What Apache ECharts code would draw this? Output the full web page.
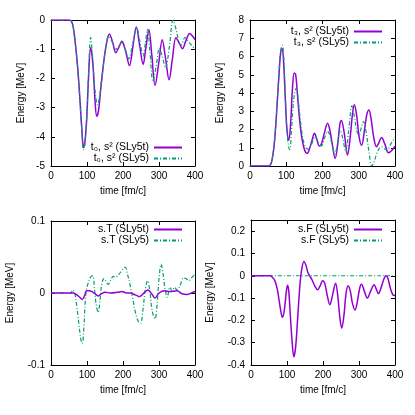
<!DOCTYPE html>
<html><head><meta charset="utf-8">
<script src="https://cdn.jsdelivr.net/npm/echarts@6/dist/echarts.min.js"></script>
<style>html,body{margin:0;padding:0;background:#fff}#c{width:415px;height:415px}</style>
</head><body><div id="c"></div>
<script>
// ---------- DATA ----------
const xTicks = [0, 100, 200, 300, 400];
const names = {
  t0a: 't\u2080, s\u00b2 (SLy5t)', t0b: 't\u2080, s\u00b2 (SLy5)',
  t3a: 't\u2083, s\u00b2 (SLy5t)', t3b: 't\u2083, s\u00b2 (SLy5)',
  sTa: 's.T (SLy5t)', sTb: 's.T (SLy5)',
  sFa: 's.F (SLy5t)', sFb: 's.F (SLy5)'
};
// panel 1 : t0, s^2
const t0_SLy5t_t = [0,50,55,60,64,68,73,77,81,86,90,94,99,104,110,114,118,122,127,132,138,144,150,156,162,171,180,188,197,207,218,227,237,246,256,263,272,280,289,299,309,318,328,337,347,356,365,375,385,393,400];
const t0_SLy5t_v = [0,0,-0.02,-0.15,-0.43,-0.85,-1.47,-2.1,-2.84,-3.8,-4.37,-4.2,-3.42,-2.04,-0.95,-1.2,-1.81,-2.7,-3.3,-3.1,-2.38,-1.7,-1.12,-0.7,-0.48,-0.75,-1.12,-0.95,-0.73,-1.05,-1.56,-0.95,-0.24,-0.85,-1.52,-1.0,-0.33,-1.2,-2.24,-1.5,-0.68,-1.3,-2.05,-1.35,-0.61,-0.78,-0.98,-0.7,-0.46,-0.55,-0.67];
const t0_SLy5_t = [0,50,55,60,64,68,73,77,81,86,90,94,99,104,110,114,119,124,129,134,140,147,153,160,170,180,188,196,206,216,227,238,247,256,262,268,275,283,292,301,309,318,329,339,348,356,362,372,386,400];
const t0_SLy5_v = [0,0,-0.02,-0.15,-0.43,-0.85,-1.5,-2.15,-2.9,-3.85,-4.45,-4.25,-3.4,-1.9,-0.6,-1.0,-1.9,-2.6,-2.9,-2.7,-2.1,-1.4,-0.85,-0.55,-0.75,-1.0,-0.9,-0.77,-1.0,-1.33,-0.8,-0.27,-0.75,-1.24,-0.8,-0.32,-1.1,-2.1,-1.6,-0.97,-1.25,-1.64,-0.9,0.0,-0.35,-0.8,-0.85,-0.6,-0.8,-1.0];
// panel 2 : t3, s^2
const t3_SLy5t_t = [0,50,55,60,66,71,75,80,84,88,92,98,102,107,112,117,122,126,131,137,144,152,158,165,171,178,184,191,197,205,214,220,227,235,242,248,252,260,269,277,283,288,294,301,308,316,322,328,334,341,349,356,363,372,382,391,400];
const t3_SLy5t_v = [0,0,0.03,0.25,1.05,2.2,3.44,5.0,6.1,6.45,5.9,3.44,2.0,1.4,2.3,4.2,5.1,5.0,3.9,2.5,1.42,0.8,0.7,1.0,1.4,1.79,1.5,1.1,1.2,1.8,2.34,2.0,1.2,0.41,1.2,2.3,2.5,1.8,0.6,1.7,2.9,3.35,2.8,1.6,1.14,2.0,2.8,3.07,2.6,1.6,1.05,1.3,1.56,1.2,0.72,0.85,1.08];
const t3_SLy5_t = [0,50,55,60,66,71,75,80,84,89,93,98,102,107,110,114,119,124,128,133,139,146,154,161,168,174,180,188,197,205,214,220,226,234,241,249,256,264,272,281,287,295,301,307,313,320,328,336,342,350,358,364,371,378,388,400];
const t3_SLy5_v = [0,0,0.03,0.25,1.05,2.2,3.5,5.1,6.25,6.62,6.0,3.6,1.9,1.0,0.9,1.8,3.3,4.1,4.27,3.6,2.5,1.5,1.0,0.92,1.1,1.4,1.6,1.3,1.1,1.5,1.9,1.7,1.2,0.64,1.2,1.97,1.5,0.77,1.9,3.3,2.8,1.9,1.7,2.1,2.43,1.9,0.8,0.0,0.2,0.7,1.0,1.05,0.95,0.86,1.2,1.56];
// panel 3 : s.T
const sT_SLy5t_t = [0,55,62,70,80,87,93,99,106,114,122,131,140,150,165,185,197,210,222,231,240,246,252,262,269,278,289,300,316,330,350,364,378,390,400];
const sT_SLy5t_v = [0,0,0,-0.002,-0.006,-0.009,-0.004,0.003,0.003,0.002,-0.001,-0.004,-0.001,0.001,0.0,0.001,0.002,0.0,0.0,-0.002,-0.004,-0.005,-0.003,0.002,0.004,0.0,-0.007,0.0,0.003,0.002,0.003,-0.001,-0.002,0.0,0.002];
const sT_SLy5_t = [0,55,60,66,72,78,83,87,91,97,104,110,116,121,126,131,136,141,147,153,159,166,173,180,187,195,206,213,219,226,236,243,249,255,262,268,274,281,289,294,300,306,311,317,323,330,337,343,350,358,368,375,383,392,400];
const sT_SLy5_v = [0,0,0.004,0.0,-0.02,-0.045,-0.065,-0.07,-0.05,0.0,0.015,0.022,0.024,0.005,-0.018,-0.027,-0.01,0.012,0.02,0.016,0.012,0.018,0.023,0.022,0.025,0.03,0.036,0.025,0.013,-0.005,-0.03,-0.04,-0.042,-0.025,0.005,0.017,0.005,-0.025,-0.036,-0.02,0.02,0.04,0.028,0.005,-0.006,0.008,0.003,0.008,0.004,0.01,0.021,0.02,0.017,0.022,0.026];
// panel 4 : s.F
const sF_SLy5t_t = [0,53,60,67,73,78,83,87,91,95,99,102,105,109,114,119,124,130,136,141,147,153,158,163,170,177,185,192,199,205,212,219,226,235,241,247,252,258,264,270,276,282,289,296,302,307,315,323,332,342,348,354,360,368,375,380,387,394,400];
const sF_SLy5t_v = [0,0,-0.008,-0.025,-0.06,-0.11,-0.16,-0.186,-0.17,-0.12,-0.06,-0.043,-0.07,-0.17,-0.29,-0.363,-0.32,-0.18,-0.04,0.03,0.064,0.045,0.015,0.0,-0.02,-0.045,-0.063,-0.045,-0.022,-0.035,-0.09,-0.13,-0.09,-0.033,-0.09,-0.19,-0.235,-0.18,-0.08,-0.045,-0.07,-0.125,-0.153,-0.11,-0.055,-0.038,-0.07,-0.1,-0.07,-0.04,-0.06,-0.08,-0.06,-0.02,0.0,-0.01,-0.055,-0.085,-0.088];
const sF_SLy5_t = [0,400];
const sF_SLy5_v = [0,0];
// y axis ranges
const yMin = [-5, 0, -0.1, -0.4];
const yMax = [0, 8, 0.1, 0.25];
const yInt = [1, 1, 0.1, 0.1];

// ---------- CHART ----------
const zip = (t, v) => t.map((x, i) => [x, v[i]]);
const FONT = 'Liberation Sans, Arial, sans-serif';
const PURPLE = '#9400d3', GREEN = '#009e73';
const grids = [
  {left: 51, top: 20, width: 144, height: 146},
  {left: 250, top: 20, width: 145, height: 146},
  {left: 51, top: 221, width: 144, height: 144},
  {left: 251, top: 220, width: 144, height: 145}
];
const yNameGap = [25, 25, 36, 36];
const xAxis = [], yAxis = [];
grids.forEach((g, i) => {
  const common = {
    type: 'value', gridIndex: i,
    axisLine: {show: true, onZero: false, lineStyle: {color: '#000', width: 1}},
    axisTick: {show: true, inside: true, length: 4, lineStyle: {color: '#000'}},
    splitLine: {show: false}
  };
  xAxis.push(Object.assign({}, common, {
    position: 'bottom', min: xTicks[0], max: xTicks[xTicks.length - 1], interval: 100,
    name: 'time [fm/c]', nameLocation: 'middle', nameGap: 20,
    nameTextStyle: {fontFamily: FONT, fontSize: 10, color: '#000'},
    axisLabel: {show: true, fontFamily: FONT, fontSize: 10, color: '#000', margin: 5}
  }));
  xAxis.push(Object.assign({}, common, {
    position: 'top', min: 0, max: 400, interval: 100, axisLabel: {show: false}
  }));
  yAxis.push(Object.assign({}, common, {
    position: 'left', min: yMin[i], max: yMax[i], interval: yInt[i],
    name: 'Energy [MeV]', nameLocation: 'middle', nameGap: yNameGap[i],
    nameTextStyle: {fontFamily: FONT, fontSize: 10, color: '#000'},
    axisLabel: {show: true, fontFamily: FONT, fontSize: 10, color: '#000', margin: 6, showMaxLabel: i !== 3}
  }));
  yAxis.push(Object.assign({}, common, {
    position: 'right', min: yMin[i], max: yMax[i], interval: yInt[i], axisLabel: {show: false}
  }));
});
const mk = (name, data, gi, purple) => ({
  name, type: 'line', data, xAxisIndex: 2 * gi, yAxisIndex: 2 * gi,
  symbol: 'none', smooth: 0.35, animation: false,
  lineStyle: purple ? {color: PURPLE, width: 1.5} : {color: GREEN, width: 1.2, type: [4, 2, 1, 2]},
  itemStyle: {color: purple ? PURPLE : GREEN}
});
const series = [
  mk(names.t0a, zip(t0_SLy5t_t, t0_SLy5t_v), 0, true),
  mk(names.t0b, zip(t0_SLy5_t, t0_SLy5_v), 0, false),
  mk(names.t3a, zip(t3_SLy5t_t, t3_SLy5t_v), 1, true),
  mk(names.t3b, zip(t3_SLy5_t, t3_SLy5_v), 1, false),
  mk(names.sTb, zip(sT_SLy5_t, sT_SLy5_v), 2, false),
  mk(names.sTa, zip(sT_SLy5t_t, sT_SLy5t_v), 2, true),
  mk(names.sFb, zip(sF_SLy5_t, sF_SLy5_v), 3, false),
  mk(names.sFa, zip(sF_SLy5t_t, sF_SLy5t_v), 3, true)
];
const legPos = [{right: 232, top: 142}, {right: 32, top: 26}, {right: 232, top: 224}, {right: 32, top: 224}];
const legNames = [[names.t0a, names.t0b], [names.t3a, names.t3b], [names.sTa, names.sTb], [names.sFa, names.sFb]];
const legend = legPos.map((p, i) => Object.assign({
  data: legNames[i], orient: 'vertical', align: 'right', itemWidth: 28, itemHeight: 10,
  itemGap: 0, padding: 0, selectedMode: false,
  itemStyle: {opacity: 0, borderWidth: 0},
  textStyle: {fontFamily: FONT, fontSize: 10.5, color: '#000', lineHeight: 10}
}, p));
const chart = echarts.init(document.getElementById('c'), null, {renderer: 'canvas'});
chart.setOption({animation: false, grid: grids, xAxis, yAxis, series, legend});
</script></body></html>
